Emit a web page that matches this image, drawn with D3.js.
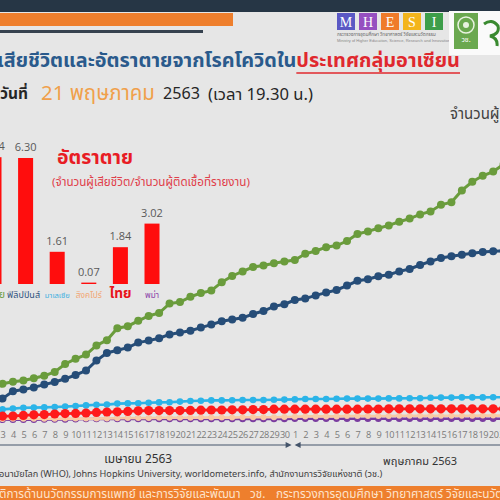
<!DOCTYPE html>
<html><head><meta charset="utf-8">
<script src="https://cdn.jsdelivr.net/npm/d3@7"></script>
<style>html,body{margin:0;padding:0;background:#e6e6e6;overflow:hidden}svg{display:block;overflow:hidden}</style>
</head><body>
<svg id="c" width="500" height="500"></svg>
<script>
// ---------- data ----------
const dayLabels = [3,4,5,6,7,8,9,10,11,12,13,14,15,16,17,18,19,20,21,22,23,24,25,26,27,28,29,30,
                   1,2,3,4,5,6,7,8,9,10,11,12,13,14,15,16,17,18,19,20,21];
const monthLabels = ["เมษายน 2563", "พฤษภาคม 2563"];
const indonesia = [181,191,198,209,221,240,280,306,327,373,399,459,469,496,520,535,582,590,616,635,647,689,720,743,765,773,784,792,
                   800,831,845,864,872,895,930,943,959,973,991,1007,1028,1043,1076,1089,1148,1191,1221,1242,1278];
const philippines = [107,144,152,163,177,190,206,225,247,297,335,349,362,387,397,409,428,437,446,462,477,494,502,511,530,545,568,579,
                     600,607,623,637,650,672,696,704,719,726,743,755,775,793,810,819,826,834,840,844,846];
const malaysia = [53,57,61,62,63,65,67,70,73,76,77,82,83,84,86,88,89,92,95,96,98,98,99,100,100,100,101,102,
                  103,105,105,105,106,107,107,107,107,108,108,109,109,111,112,112,113,113,113,114,114];
const thailand = [19,20,23,26,27,30,32,33,35,38,40,41,43,46,47,47,47,47,48,49,50,50,51,51,52,52,54,54,
                  54,54,54,54,54,54,54,55,55,56,56,56,56,56,56,56,56,56,56,56,56];
const singapore = [5,6,6,6,6,6,7,7,7,7,8,9,10,10,10,11,11,11,11,12,12,12,12,14,14,14,14,15,
                   16,18,18,18,18,20,20,20,20,20,21,21,21,21,21,21,21,21,22,22,22];
const myanmar = [1,1,1,1,3,3,3,4,5,5,5,5,5,5,5,5,5,5,5,5,5,5,5,5,5,5,5,5,
                 6,6,6,6,6,6,6,6,6,6,6,6,6,6,6,6,6,6,6,6,6];
const barCountries = ["อินโดนีเซีย","ฟิลิปปินส์","มาเลเซีย","สิงคโปร์","ไทย","พม่า"];
const deathRates = [6.34, 6.30, 1.61, 0.07, 1.84, 3.02];

// ---------- styles ----------
const TH = "'Noto Sans Thai','Leelawadee UI',Tahoma,'Noto Sans','DejaVu Sans',sans-serif";
const svg = d3.select("#c");
function fit(sel, w){
  const l = sel.node().getComputedTextLength();
  if (l > 0) sel.attr("font-size", parseFloat(sel.attr("font-size")) * w / l);
  return sel;
}
svg.append("rect").attr("width",500).attr("height",500).attr("fill","#e6e6e6");

// ---------- header ----------
svg.append("rect").attr("x",0).attr("y",0).attr("width",500).attr("height",12).attr("fill","#263645");
svg.append("rect").attr("x",0).attr("y",13).attr("width",233).attr("height",13).attr("fill","#ee7f2d");
svg.append("rect").attr("x",0).attr("y",30).attr("width",203).attr("height",3).attr("fill","#36424f");

// logos
const mh = ["M","H","E","S","I"], mhc = ["#5a58c4","#9650c0","#ef7b2a","#f3b51c","#3d9e4a"];
mh.forEach((l,i)=>{
  svg.append("rect").attr("x",337+i*22).attr("y",13).attr("width",18).attr("height",17).attr("fill",mhc[i]);
  svg.append("text").attr("x",346+i*22).attr("y",27).attr("text-anchor","middle")
    .attr("font-family","'Liberation Serif','DejaVu Serif',serif").attr("font-size",14).attr("fill","#fff").text(l);
});
svg.append("text").attr("x",337).attr("y",36).attr("font-family",TH).attr("font-size",4.6).attr("fill","#666")
  .text("กระทรวงการอุดมศึกษา วิทยาศาสตร์ วิจัยและนวัตกรรม");
svg.append("text").attr("x",337).attr("y",42).attr("font-family","'Liberation Sans',sans-serif").attr("font-size",4).attr("fill","#888")
  .text("Ministry of Higher Education, Science, Research and Innovation");
svg.append("rect").attr("x",449).attr("y",11).attr("width",51).attr("height",44).attr("fill","#fafafa");
svg.append("rect").attr("x",454).attr("y",13).attr("width",24).attr("height",36).attr("fill","#6aa84f");
svg.append("circle").attr("cx",466).attr("cy",25).attr("r",8).attr("fill","none").attr("stroke","#e8f2e0").attr("stroke-width",1.5);
svg.append("circle").attr("cx",466).attr("cy",25).attr("r",3).attr("fill","#e8f2e0");
svg.append("text").attr("x",466).attr("y",42).attr("text-anchor","middle").attr("font-family",TH).attr("font-size",7).attr("fill","#fff").text("วช.");
svg.append("path").attr("d","M484,24 Q492,18 498,26 Q500,34 490,36 Q498,38 497,46").attr("fill","none").attr("stroke","#3a8a30").attr("stroke-width",3);

// title
const t1 = svg.append("text").attr("x",-3).attr("y",67).attr("font-family",TH).attr("font-size",20).attr("font-weight","bold");
t1.append("tspan").attr("fill","#2a5a8c").text("เสียชีวิตและอัตราตายจากโรคโควิดใน");
t1.append("tspan").attr("fill","#e0282e").text("ประเทศกลุ่มอาเซียน");
fit(t1, 463);
const redStart = -3 + t1.select("tspan").node().getComputedTextLength();
svg.append("line").attr("x1",redStart).attr("x2",460).attr("y1",73).attr("y2",73).attr("stroke","#e0282e").attr("stroke-width",1.6);

fit(svg.append("text").attr("x",0).attr("y",99).attr("font-family",TH).attr("font-size",16).attr("font-weight","bold").attr("fill","#262626").text("วันที่"),28);
fit(svg.append("text").attr("x",41).attr("y",100).attr("font-family",TH).attr("font-size",22).attr("fill","#f0a04b").text("21 พฤษภาคม"),114);
fit(svg.append("text").attr("x",163).attr("y",99).attr("font-family",TH).attr("font-size",18).attr("fill","#262626").text("2563"),37);
fit(svg.append("text").attr("x",208).attr("y",100).attr("font-family",TH).attr("font-size",14).attr("fill","#262626").text("(เวลา 19.30 น.)"),105);

svg.append("text").attr("x",450).attr("y",119).attr("font-family",TH).attr("font-size",15).attr("fill","#404040").text("จำนวนผู้เสียชีวิต (ราย)");

// ---------- line chart ----------
const x = d3.scalePoint().domain(d3.range(dayLabels.length)).range([2.5, 2.5 + 10.44*(dayLabels.length-1)]);
const y = d3.scaleLinear().domain([0, 1300]).range([420, 160]);
const series = [
  {v: indonesia,  c:"#6a9c3c", r:4,   w:3},
  {v: philippines,c:"#264d78", r:4,   w:3},
  {v: malaysia,   c:"#2bb4e8", r:3.3, w:2.6},
  {v: myanmar,    c:"#7a3ca0", r:3.3, w:2.6},
  {v: singapore,  c:"#f8caa6", r:3,   w:2.6},
  {v: thailand,   c:"#ff1a1a", r:4.6, w:2.8}
];
const line = d3.line().x((d,i)=>x(i)).y(d=>y(d));
series.forEach(s=>{
  const g = svg.append("g");
  g.append("path").datum(s.v).attr("d",line).attr("fill","none").attr("stroke",s.c).attr("stroke-width",s.w);
  g.selectAll("circle").data(s.v).join("circle").attr("cx",(d,i)=>x(i)).attr("cy",d=>y(d)).attr("r",s.r).attr("fill",s.c);
});

const ax = svg.append("g").attr("transform","translate(0,428)")
  .call(d3.axisBottom(x).tickSize(0).tickPadding(3).tickFormat(i=>dayLabels[i]));
ax.select(".domain").remove();
ax.selectAll("text").attr("font-family","'Open Sans','Noto Sans',sans-serif").attr("font-size",9.2).attr("fill","#7a7a7a").attr("letter-spacing",-0.4);

// month brackets
const mid = (x(27)+x(28))/2;
svg.append("line").attr("x1",-5).attr("x2",mid-1).attr("y1",445).attr("y2",445).attr("stroke","#44546a").attr("stroke-width",1.2);
svg.append("line").attr("x1",mid+7).attr("x2",505).attr("y1",445).attr("y2",445).attr("stroke","#44546a").attr("stroke-width",1.2);
svg.append("path").attr("d",`M${mid+2},445 L${mid-4},442 L${mid-4},448 Z`).attr("fill","#44546a");
svg.append("path").attr("d",`M${mid+5},445 L${mid+11},442 L${mid+11},448 Z`).attr("fill","#44546a");
fit(svg.append("text").attr("x",x(13)).attr("y",463).attr("text-anchor","middle").attr("font-family",TH).attr("font-size",14).attr("fill","#333").text(monthLabels[0]),68);
fit(svg.append("text").attr("x",x(40)).attr("y",465).attr("text-anchor","middle").attr("font-family",TH).attr("font-size",14).attr("fill","#333").text(monthLabels[1]),74);

// source
svg.append("text").attr("x",-1).attr("y",477).attr("text-anchor","end").attr("font-family",TH).attr("font-size",11).attr("fill","#404040").text("ที่มา: องค์การ");
fit(svg.append("text").attr("x",-1).attr("y",477).attr("font-family",TH).attr("font-size",11).attr("fill","#404040")
  .text("อนามัยโลก (WHO), Johns Hopkins University, worldometers.info, สำนักงานการวิจัยแห่งชาติ (วช.)"),384);

// footer
svg.append("rect").attr("x",0).attr("y",486).attr("width",500).attr("height",14).attr("fill","#ee7f2d");
const fA = fit(svg.append("text").attr("x",-1).attr("y",498).attr("font-family",TH).attr("font-size",11).attr("fill","#fde3cc")
  .text("ติการด้านนวัตกรรมการแพทย์ และการวิจัยและพัฒนา"),242);
const ffs = fA.attr("font-size");
svg.append("text").attr("x",250).attr("y",498).attr("font-family",TH).attr("font-size",ffs).attr("fill","#fde3cc").text("วช.");
svg.append("text").attr("x",276).attr("y",498).attr("font-family",TH).attr("font-size",ffs).attr("fill","#fde3cc")
  .text("กระทรวงการอุดมศึกษา วิทยาศาสตร์ วิจัยและนวัตกรรม");

// ---------- bar inset ----------
const bx = d3.scaleBand().domain(barCountries).range([-30.1, 176.1]).padding(0.525);
const by = d3.scaleLinear().domain([0, 6.3]).range([284, 158]);
svg.append("g").selectAll("rect").data(deathRates).join("rect")
  .attr("x",(d,i)=>bx(barCountries[i])).attr("width",bx.bandwidth())
  .attr("y",d=>by(d)).attr("height",d=>by(0)-by(d)).attr("fill","#ff0d0d");
svg.append("g").selectAll("text").data(deathRates).join("text")
  .attr("x",(d,i)=>bx(barCountries[i])+bx.bandwidth()/2).attr("y",d=>by(d)-7)
  .attr("text-anchor","middle").attr("font-family","'Open Sans','Noto Sans',sans-serif").attr("font-size",11).attr("fill","#595959")
  .text(d=>d.toFixed(2));
const catColor = ["#6a9c3c","#2c4f7c","#3fb0e0","#f2a774","#e8141a","#8a40a8"];
const catSize = [10,10,10,10,19,10];
const catW = [42,33,25,26,22,14];
barCountries.forEach((c,i)=>{
  const t = svg.append("text").attr("y",298)
    .attr("font-family",TH).attr("font-size",catSize[i]).attr("font-weight",i==4?"bold":"normal").attr("fill",catColor[i]).text(c);
  if (i === 0) t.attr("x",5).attr("text-anchor","end");
  else t.attr("x",bx(c)+bx.bandwidth()/2 - (i==1?2:0)).attr("text-anchor","middle");
  fit(t, catW[i]);
});
fit(svg.append("text").attr("x",57).attr("y",164).attr("font-family",TH).attr("font-size",22).attr("font-weight","bold").attr("fill","#e81c24").text("อัตราตาย"),76);
fit(svg.append("text").attr("x",52).attr("y",186).attr("font-family",TH).attr("font-size",11).attr("fill","#e0404a").text("(จำนวนผู้เสียชีวิต/จำนวนผู้ติดเชื้อที่รายงาน)"),198);
</script>
</body></html>
